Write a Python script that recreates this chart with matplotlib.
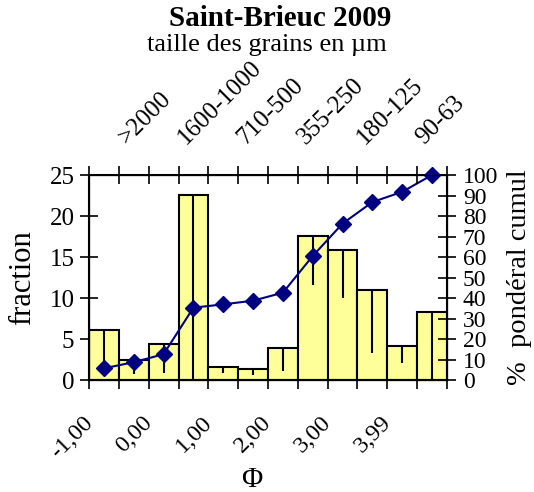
import numpy as np
import matplotlib
matplotlib.use("Agg")
from matplotlib import pyplot as plt

plt.rcParams['font.family'] = ['Liberation Serif', 'DejaVu Serif']
plt.rcParams['mathtext.fontset'] = 'stix'

# phi classes (lower bound of each half-phi class)
phi_low = [-1.0, -0.5, 0.0, 0.5, 1.0, 1.5, 2.0, 2.5, 3.0, 3.5, 4.0, 4.5]
fraction = [6.1, 2.4, 4.4, 22.6, 1.6, 1.4, 3.9, 17.6, 15.9, 11.0, 4.1, 8.3]
fraction_err = [4.6, 1.7, 3.5, 22.6, 0.7, 0.8, 2.8, 6.0, 5.9, 7.7, 2.0, 8.3]
cumul = [5.7, 8.7, 12.6, 35.3, 36.9, 38.7, 42.6, 60.5, 76.3, 86.8, 91.8, 100.0]

phi_ticks = [-1.0, 0.0, 1.0, 2.0, 3.0, 4.0]
phi_labels = ['-1,00', '0,00', '1,00', '2,00', '3,00', '3,99']
size_ticks = [-0.5, 0.5, 1.5, 2.5, 3.5, 4.5]
size_labels = ['>2000', '1600-1000', '710-500', '355-250', '180-125', '90-63']

width = 0.5
centers = [p + width / 2 for p in phi_low]
edges = phi_low + [phi_low[-1] + width]

fig = plt.figure(figsize=(5.34, 4.92), dpi=100)
ax = fig.add_axes([0.1667, 0.2276, 0.6703, 0.4167])

ax.bar(phi_low, fraction, width=width, align='edge', color='#ffff99',
       edgecolor='black', linewidth=1.5, zorder=2)
ax.errorbar(centers, fraction, yerr=[fraction_err, [0] * len(fraction)],
            fmt='none', ecolor='black', elinewidth=1.5, capsize=0, zorder=3)
ax.set_xlim(edges[0], edges[-1])
ax.set_ylim(0, 25)
ax.set_yticks(range(0, 26, 5))
ax.set_xticks(edges)
ax.set_xticklabels(['' for _ in edges])
ax.tick_params(axis='both', direction='inout', length=13, width=1.2,
               labelsize=18, pad=4)
ax.set_ylabel('fraction', fontsize=22, labelpad=9)

# phi labels on bottom
for x, lab in zip(phi_ticks, phi_labels):
    ax.annotate(lab, xy=(x, 0), xycoords=('data', 'axes fraction'),
                xytext=(-5, -23), textcoords='offset points',
                rotation=45, ha='right', va='top', fontsize=17.5,
                rotation_mode='anchor')
fig.text(0.472, 0.024, 'Φ', ha='center', va='center', fontsize=21)

for s in ax.spines.values():
    s.set_linewidth(1.5)

# right axis: cumulative percent
ax2 = ax.twinx()
ax2.plot(centers, cumul, color='#000080', marker='D', markersize=8,
         linewidth=1.5, zorder=4, clip_on=False)
ax2.set_ylim(0, 100)
ax2.set_yticks(range(0, 101, 10))
ax2.tick_params(axis='y', direction='inout', length=13, width=1.2,
                labelsize=17, pad=5)
ax2.set_ylabel('%  pondéral cumul', fontsize=20.5, labelpad=6)

# top axis: grain size classes
ax3 = ax.twiny()
ax3.set_xlim(ax.get_xlim())
ax3.set_xticks(edges)
ax3.set_xticklabels(['' for _ in edges])
ax3.tick_params(axis='x', direction='inout', length=13, width=1.2)
for x, lab in zip(size_ticks, size_labels):
    ax3.annotate(lab, xy=(x, 1), xycoords=('data', 'axes fraction'),
                 xytext=(8, 19), textcoords='offset points',
                 rotation=45, ha='left', va='bottom', fontsize=18,
                 rotation_mode='anchor')

fig.text(0.524, 0.963, 'Saint-Brieuc 2009', ha='center', va='center',
         fontsize=21, fontweight='bold')
fig.text(0.5, 0.909, 'taille des grains en µm', ha='center', va='center',
         fontsize=19)

fig.savefig('out.png', dpi=100)
plt.close(fig)
